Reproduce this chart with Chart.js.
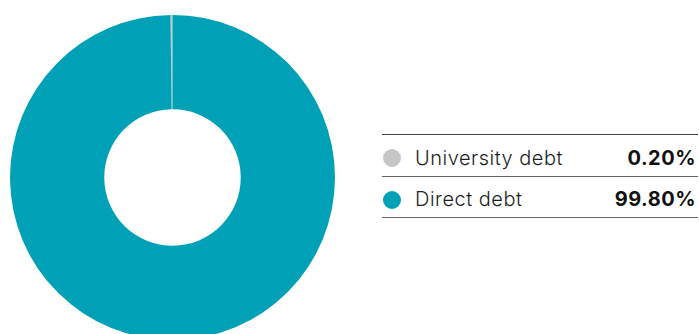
<!DOCTYPE html>
<html lang="en">
<head>
<meta charset="UTF-8">
<title>Debt split</title>
<script src="https://cdn.jsdelivr.net/npm/chart.js"></script>
<style>
    html, body { margin: 0; padding: 0; background: #fff; overflow: hidden; }
    body { width: 699px; height: 334px; position: relative; font-family: Inter, "Open Sans", sans-serif; }
    #chart-wrap { position: absolute; left: 10px; top: 15px; width: 325px; height: 325px; }
    #legend { position: absolute; left: 382px; top: 134px; width: 316px; border-top: 1.5px solid #444; }
    .row { position: relative; height: 41.7px; box-sizing: border-box; border-bottom: 1.5px solid #666; }
    .row .dot { position: absolute; left: 1px; top: 14px; width: 18px; height: 18px; border-radius: 50%; }
    .row .lbl, .row .val { position: absolute; top: 12.5px; font-size: 20px; line-height: 20px; color: #1e1e1e; letter-spacing: 0.5px; white-space: nowrap; }
    .row .lbl { left: 33px; font-weight: 300; }
    .row .val { right: 2px; font-weight: 700; color: #111; }
</style>
</head>
<body>
    <div id="chart-wrap"><canvas id="debt-chart"></canvas></div>
    <div id="legend"></div>

    <script>
        // Share of total debt
        var labels = ['University debt', 'Direct debt'];
        var shares = [0.2, 99.8];
        var colors = ['#c6c6c6', '#00a1b6'];

        // Legend rows on the right
        var legend = document.getElementById('legend');
        labels.forEach(function(label, i) {
            var row = document.createElement('div');
            row.className = 'row';
            row.innerHTML = '<span class="dot" style="background:' + colors[i] + '"></span>' +
                '<span class="lbl">' + label + '</span>' +
                '<span class="val">' + shares[i].toFixed(2) + '%</span>';
            legend.appendChild(row);
        });

        var ctx = document.getElementById('debt-chart').getContext('2d');
        var debtChart = new Chart(ctx, {
            type: 'doughnut',
            data: {
                labels: labels,
                datasets: [{
                    data: shares,
                    backgroundColor: colors,
                    borderWidth: 0
                }]
            },
            options: {
                responsive: true,
                maintainAspectRatio: false,
                animation: false,
                cutout: '42%',
                // small slice sits just left of twelve o'clock
                rotation: -360 * shares[0] / 100,
                layout: { padding: 0 },
                plugins: {
                    legend: { display: false },
                    tooltip: { enabled: false }
                }
            }
        });
    </script>
</body>
</html>
